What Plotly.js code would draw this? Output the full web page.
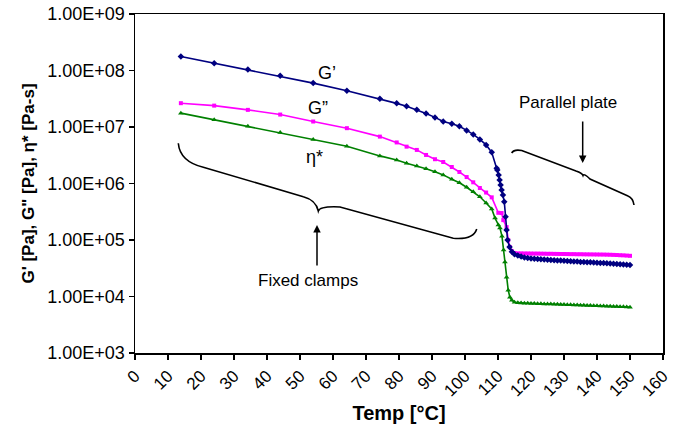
<!DOCTYPE html>
<html>
<head>
<meta charset="utf-8">
<script src="https://cdn.plot.ly/plotly-3.0.1.min.js"></script>
<style>html,body{margin:0;padding:0;background:#fff;}#chart{width:686px;height:424px;}</style>
</head>
<body>
<div id="chart"></div>
<script>
// Temperatures (°C) of the readings before the transition (shared by all series)
const baseTemp = [13.9, 24.0, 34.2, 44.0, 54.0, 64.2, 74.2, 79.3, 82.3, 85.4, 88.2, 90.9, 93.4, 96.0, 98.3, 100.5, 102.5, 104.5, 106.4, 108.1];
// Temperatures of the dense readings after the transition (parallel plate)
const tailTemp = [115,116,117,118,119,120,121,122,123,124,125,126,127,128,129,130,131,132,133,134,135,136,137,138,139,140,141,142,143,144,145,146,147,148,149,150];

// G' [Pa]
const gpBase = [1.77e8, 1.35e8, 1.04e8, 8.05e7, 5.98e7, 4.37e7, 3.15e7, 2.62e7, 2.32e7, 2.01e7, 1.74e7, 1.48e7, 1.25e7, 1.14e7, 1.03e7, 8.71e6, 7.39e6, 6.03e6, 4.82e6, 3.57e6];
const gpTransTemp = [109.6, 109.8, 110.2, 110.5, 110.8, 111.1, 111.5, 111.9, 112.3, 112.6, 112.9, 113.5, 114.2];
const gpTrans = [1.86e6, 1.73e6, 1.42e6, 1.15e6, 9.44e5, 7.67e5, 6.27e5, 4.76e5, 2.58e5, 1.50e5, 9.96e4, 7.48e4, 6.18e4];
const gpTail = [5.6e4, 5.3e4, 5.1e4, 4.9e4, 4.8e4, 4.7e4, 4.65e4, 4.6e4, 4.55e4, 4.5e4, 4.45e4, 4.42e4, 4.38e4, 4.35e4, 4.32e4, 4.28e4, 4.25e4, 4.22e4, 4.18e4, 4.15e4, 4.1e4, 4.08e4, 4.05e4, 4.02e4, 3.98e4, 3.95e4, 3.92e4, 3.9e4, 3.86e4, 3.82e4, 3.78e4, 3.75e4, 3.72e4, 3.68e4, 3.65e4, 3.62e4];

// G'' [Pa]
const gppBase = [2.64e7, 2.39e7, 2.01e7, 1.66e7, 1.25e7, 9.53e6, 6.76e6, 5.33e6, 4.49e6, 3.93e6, 3.20e6, 2.69e6, 2.40e6, 1.96e6, 1.60e6, 1.30e6, 1.05e6, 8.32e5, 6.92e5, 5.69e5];
const gppTransTemp = [110.1, 111.1, 111.6, 112.6, 113.1, 113.6, 114.2];
const gppTrans = [3.03e5, 3.0e5, 2.25e5, 1.69e5, 9.96e4, 7.48e4, 6.35e4];
const gppTail = [5.9e4, 5.8e4, 5.8e4, 5.78e4, 5.78e4, 5.76e4, 5.75e4, 5.75e4, 5.73e4, 5.72e4, 5.7e4, 5.7e4, 5.68e4, 5.67e4, 5.66e4, 5.65e4, 5.64e4, 5.62e4, 5.62e4, 5.6e4, 5.6e4, 5.58e4, 5.57e4, 5.56e4, 5.55e4, 5.54e4, 5.53e4, 5.52e4, 5.5e4, 5.48e4, 5.45e4, 5.42e4, 5.38e4, 5.35e4, 5.3e4, 5.25e4];

// eta* [Pa-s]
const etaBase = [1.76e7, 1.34e7, 1.03e7, 7.96e6, 5.98e6, 4.57e6, 3.08e6, 2.61e6, 2.28e6, 2.04e6, 1.83e6, 1.62e6, 1.42e6, 1.19e6, 1.03e6, 8.57e5, 7.16e5, 5.83e5, 4.51e5, 3.53e5];
const etaTransTemp = [109.1, 110.1, 110.6, 111.2, 111.7, 112.1, 112.6, 113.1, 113.6, 114.2];
const etaTrans = [2.44e5, 1.84e5, 1.63e5, 1.17e5, 6.62e4, 4.06e4, 2.20e4, 1.29e4, 9.73e3, 8.6e3];
const etaTail = [7.9e3, 7.75e3, 7.7e3, 7.62e3, 7.58e3, 7.55e3, 7.5e3, 7.47e3, 7.44e3, 7.4e3, 7.37e3, 7.34e3, 7.3e3, 7.28e3, 7.25e3, 7.2e3, 7.17e3, 7.13e3, 7.1e3, 7.05e3, 7.02e3, 6.98e3, 6.95e3, 6.92e3, 6.88e3, 6.85e3, 6.8e3, 6.77e3, 6.73e3, 6.7e3, 6.66e3, 6.63e3, 6.6e3, 6.56e3, 6.52e3, 6.48e3];

// Axis ticks
const xTicks = [0,10,20,30,40,50,60,70,80,90,100,110,120,130,140,150,160];
const yTickVals = [1e3, 1e4, 1e5, 1e6, 1e7, 1e8, 1e9];
const yTickText = ["1.00E+03","1.00E+04","1.00E+05","1.00E+06","1.00E+07","1.00E+08","1.00E+09"];

const FONT = "Liberation Sans, Arial, sans-serif";

function series(name, temps, vals, color, symbol, size) {
  return {
    type: 'scatter', mode: 'lines+markers', name: name,
    x: temps, y: vals,
    line: {color: color, width: 1.6},
    marker: {color: color, symbol: symbol, size: size, line: {width: 0}},
    hoverinfo: 'x+y+name'
  };
}

const traces = [
  series("η*", baseTemp.concat(etaTransTemp, tailTemp), etaBase.concat(etaTrans, etaTail), '#008000', 'triangle-up', 5),
  series("G''", baseTemp.concat(gppTransTemp, tailTemp), gppBase.concat(gppTrans, gppTail), '#FF00FF', 'square', 4),
  series("G'", baseTemp.concat(gpTransTemp, tailTemp), gpBase.concat(gpTrans, gpTail), '#000080', 'diamond', 5)
];

const braceStyle = {color: 'black', width: 1.6};
function label(x, y, text, size) {
  return {xref: 'paper', yref: 'paper', x: x, y: y, text: text, showarrow: false,
          xanchor: 'center', yanchor: 'middle', font: {family: FONT, size: size, color: '#000'}};
}
const layout = {
  width: 686, height: 424,
  margin: {l: 135, r: 23, t: 14, b: 71},
  paper_bgcolor: '#fff', plot_bgcolor: '#fff',
  showlegend: false,
  font: {family: FONT, color: '#000'},
  xaxis: {
    range: [0, 160], tickvals: xTicks, tickangle: -45,
    ticks: 'outside', ticklen: 5, tickwidth: 1.3, tickcolor: '#000',
    showline: true, linecolor: '#000', linewidth: 1.5, mirror: true,
    showgrid: false, zeroline: false,
    tickfont: {family: FONT, size: 17, color: '#000'},
    title: {text: 'Temp [°C]', font: {family: FONT, size: 20, color: '#000', weight: 'bold'}, standoff: 12}
  },
  yaxis: {
    type: 'log', range: [3, 9], tickvals: yTickVals, ticktext: yTickText,
    ticks: 'outside', ticklen: 5, tickwidth: 1.3, tickcolor: '#000',
    showline: true, linecolor: '#000', linewidth: 1.5, mirror: true,
    showgrid: false, zeroline: false,
    tickfont: {family: FONT, size: 18, color: '#000'},
    title: {text: 'G\' [Pa], G" [Pa], η* [Pa-s]', font: {family: FONT, size: 17, color: '#000', weight: 'bold'}, standoff: 8}
  },
  shapes: [
    {type: 'path', xref: 'paper', yref: 'paper', line: braceStyle,
     path: 'M 0.0820,0.6186 Q 0.0852,0.5643 0.1294,0.5478 L 0.3188,0.4611 Q 0.3428,0.4513 0.3472,0.4189 Q 0.3504,0.4336 0.3883,0.4307 L 0.6028,0.3383 Q 0.6407,0.3333 0.6472,0.3658'},
    {type: 'path', xref: 'paper', yref: 'paper', line: braceStyle,
     path: 'M 0.7134,0.5900 Q 0.7178,0.6018 0.7324,0.5973 L 0.8352,0.5369 Q 0.8466,0.5310 0.8485,0.5236 Q 0.8504,0.5310 0.8617,0.5133 L 0.9337,0.4631 Q 0.9432,0.4572 0.9451,0.4366'}
  ],
  annotations: [
    label(0.3631, 0.8251, 'G’', 18),
    label(0.3472, 0.7218, 'G”', 18),
    label(0.3409, 0.5782, 'η*', 18),
    {xref: 'paper', yref: 'paper', x: 0.3447, y: 0.3776, text: '', showarrow: true, ax: 0, ay: 42, arrowhead: 2, arrowsize: 1, arrowwidth: 1.5, arrowcolor: '#000'},
    label(0.3277, 0.2124, 'Fixed clamps', 17),
    {xref: 'paper', yref: 'paper', x: 0.8479, y: 0.5605, text: '', showarrow: true, ax: 0, ay: -43, arrowhead: 2, arrowsize: 1, arrowwidth: 1.5, arrowcolor: '#000'},
    label(0.8201, 0.7375, 'Parallel plate', 17)
  ]
};

Plotly.newPlot('chart', traces, layout, {displayModeBar: false, staticPlot: true});
</script>
</body>
</html>
